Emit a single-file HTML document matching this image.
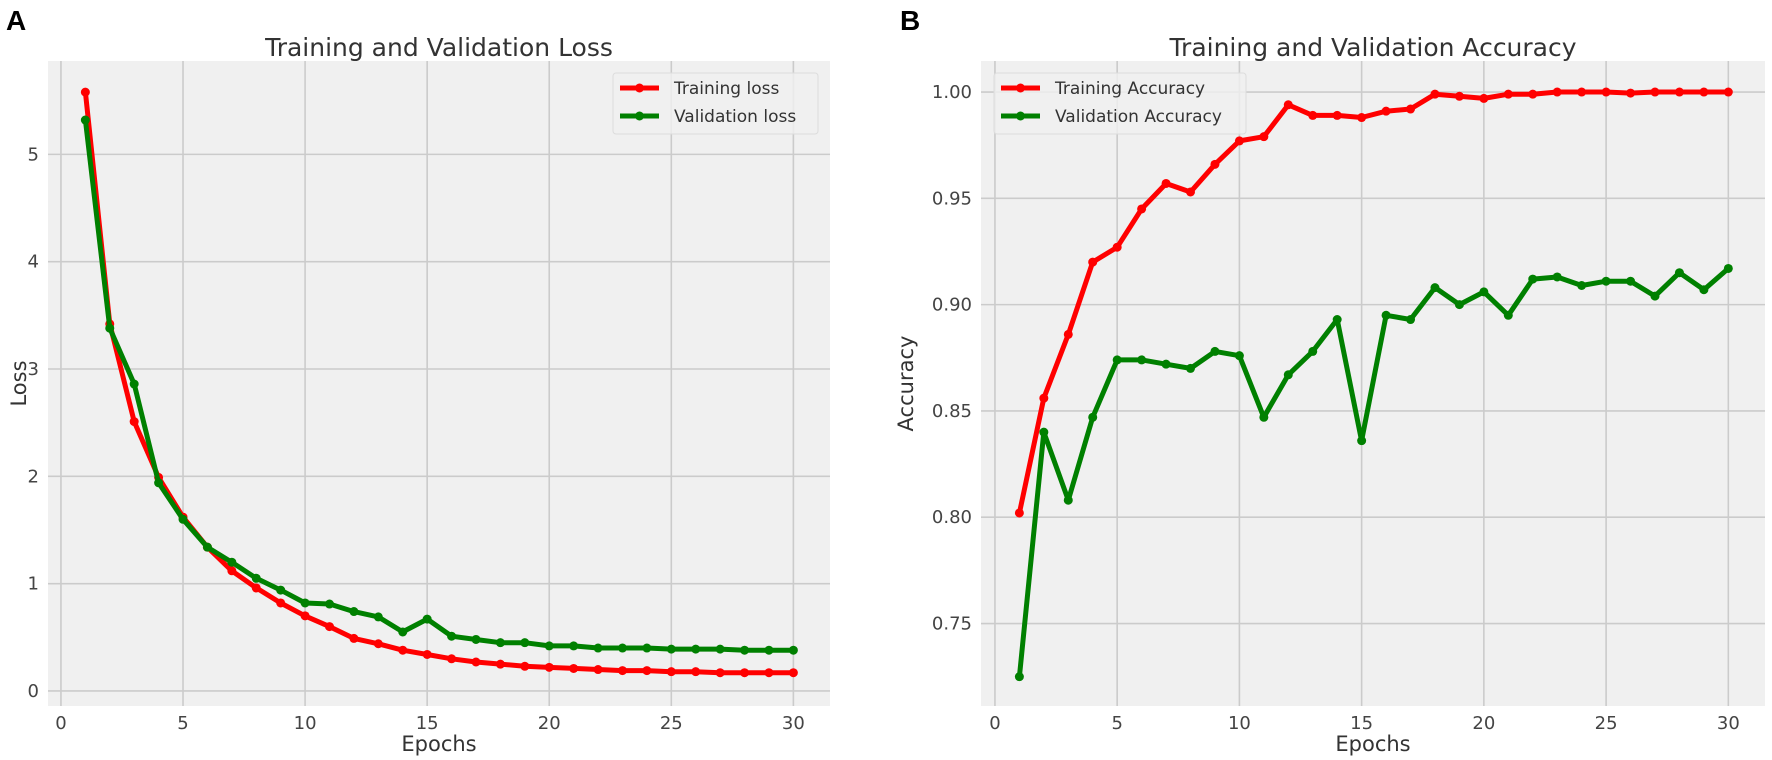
<!DOCTYPE html>
<html><head><meta charset="utf-8"><style>
html,body{margin:0;padding:0;background:#fff;}
svg{display:block;font-family:"DejaVu Sans","Liberation Sans",sans-serif;}
</style></head><body>
<svg id="fig" width="1772" height="760" viewBox="0 0 1772 760" xmlns="http://www.w3.org/2000/svg">
<text x="6" y="30" font-size="28" font-weight="bold" fill="#000" font-family="Liberation Sans, sans-serif">A</text>
<text x="900" y="30" font-size="28" font-weight="bold" fill="#000" font-family="Liberation Sans, sans-serif">B</text>
</svg>
<script>
const epochs = [1,2,3,4,5,6,7,8,9,10,11,12,13,14,15,16,17,18,19,20,21,22,23,24,25,26,27,28,29,30];
const trainLoss = [5.58,3.42,2.51,1.99,1.62,1.34,1.12,0.96,0.82,0.70,0.60,0.49,0.44,0.38,0.34,0.30,0.27,0.25,0.23,0.22,0.21,0.20,0.19,0.19,0.18,0.18,0.17,0.17,0.17,0.17];
const valLoss = [5.32,3.38,2.86,1.94,1.60,1.34,1.20,1.05,0.94,0.82,0.81,0.74,0.69,0.55,0.67,0.51,0.48,0.45,0.45,0.42,0.42,0.40,0.40,0.40,0.39,0.39,0.39,0.38,0.38,0.38];
const trainAcc = [0.802,0.856,0.886,0.920,0.927,0.945,0.957,0.953,0.966,0.977,0.979,0.994,0.989,0.989,0.988,0.991,0.992,0.999,0.998,0.997,0.999,0.999,1.000,1.000,1.000,0.9995,1.000,1.000,1.000,1.000];
const valAcc = [0.725,0.840,0.808,0.847,0.874,0.874,0.872,0.870,0.878,0.876,0.847,0.867,0.878,0.893,0.836,0.895,0.893,0.908,0.900,0.906,0.895,0.912,0.913,0.909,0.911,0.911,0.904,0.915,0.907,0.917];
const xTicks = [0,5,10,15,20,25,30];
const lossTicks = [0,1,2,3,4,5];
const lossTickLabels = ["0","1","2","3","4","5"];
const accTicks = [0.75,0.80,0.85,0.90,0.95,1.00];
const accTickLabels = ["0.75","0.80","0.85","0.90","0.95","1.00"];

const NS = "http://www.w3.org/2000/svg";
const svg = document.getElementById('fig');
function mk(tag, attrs, parent){
  const e = document.createElementNS(NS, tag);
  for (const k in attrs) e.setAttribute(k, attrs[k]);
  (parent||svg).appendChild(e);
  return e;
}
function panel(cfg){
  const g = mk('g', {});
  
  
  const L = cfg.left, R = cfg.right, T = 61, B = 706;
  const xs = v => L + (v - cfg.xmin) / (cfg.xmax - cfg.xmin) * (R - L);
  const ys = v => B - (v - cfg.ymin) / (cfg.ymax - cfg.ymin) * (B - T);
  const bg = mk('rect', {x:L, y:T, width:R-L, height:B-T, fill:'#f0f0f0'}, g);
  
  
  xTicks.forEach(t => {
    const x = xs(t);
    const gl = mk('line', {x1:x, x2:x, y1:T, y2:B, stroke:'#cbcbcb', 'stroke-width':1.6}, g);
    
    
    const tl = mk('text', {x:x, y:B+23, 'font-size':18, fill:'#444', 'text-anchor':'middle'}, g);
    tl.textContent = String(t);
    
    
  });
  cfg.yticks.forEach((t, i) => {
    const y = ys(t);
    const gl = mk('line', {x1:L, x2:R, y1:y, y2:y, stroke:'#cbcbcb', 'stroke-width':1.6}, g);
    
    
    const tl = mk('text', {x:L-9, y:y+6, 'font-size':18, fill:'#444', 'text-anchor':'end'}, g);
    tl.textContent = cfg.ylabels[i];
    
    
  });
  cfg.series.forEach(s => {
    const pts = epochs.map((e, i) => xs(e).toFixed(1) + ',' + ys(s.data[i]).toFixed(1)).join(' ');
    const pl = mk('polyline', {points:pts, fill:'none', stroke:s.color, 'stroke-width':5, 'stroke-linejoin':'round'}, g);
    
    
    epochs.forEach((e, i) => {
      const c = mk('circle', {cx:xs(e), cy:ys(s.data[i]), r:4.5, fill:s.color}, g);
      
      
    });
  });
  const tt = mk('text', {x:(L+R)/2, y:56, 'font-size':25, fill:'#333', 'text-anchor':'middle'}, g);
  tt.textContent = cfg.title;
  
  
  const xl = mk('text', {x:(L+R)/2, y:B+45, 'font-size':21, fill:'#333', 'text-anchor':'middle'}, g);
  xl.textContent = 'Epochs';
  
  
  const yl = mk('text', {x:0, y:0, 'font-size':21, fill:'#333', 'text-anchor':'middle', transform:'translate(' + cfg.ylabelX + ',' + ((T+B)/2) + ') rotate(-90)'}, g);
  yl.textContent = cfg.ylabel;
  
  
  const lg = mk('g', {}, g);
  
  
  mk('rect', {x:cfg.lgx, y:73, width:cfg.lgw, height:61, rx:3, fill:'#f0f0f0', stroke:'#dcdcdc', 'stroke-width':1, 'fill-opacity':0.8}, lg);
  cfg.series.forEach((s, i) => {
    const y = 88 + i * 28;
    const ent = mk('g', {}, lg);
    
    
    mk('line', {x1:cfg.lgx+7, x2:cfg.lgx+46, y1:y, y2:y, stroke:s.color, 'stroke-width':5}, ent);
    mk('circle', {cx:cfg.lgx+26.5, cy:y, r:4.5, fill:s.color}, ent);
    const t = mk('text', {x:cfg.lgx+61, y:y+6, 'font-size':17, fill:'#333'}, ent);
    t.textContent = s.label;
  });
}
panel({name:'loss-chart', left:48, right:830, xmin:-0.53, xmax:31.5, ymin:-0.14, ymax:5.87,
  yticks:lossTicks, ylabels:lossTickLabels, title:'Training and Validation Loss', ylabel:'Loss', ylabelX:26,
  lgx:613, lgw:205,
  series:[{id:'training-loss', label:'Training loss', color:'#ff0000', data:trainLoss},
          {id:'validation-loss', label:'Validation loss', color:'#008000', data:valLoss}]});
panel({name:'accuracy-chart', left:981, right:1765, xmin:-0.57, xmax:31.5, ymin:0.7112, ymax:1.0146,
  yticks:accTicks, ylabels:accTickLabels, title:'Training and Validation Accuracy', ylabel:'Accuracy', ylabelX:913,
  lgx:994, lgw:252,
  series:[{id:'training-accuracy', label:'Training Accuracy', color:'#ff0000', data:trainAcc},
          {id:'validation-accuracy', label:'Validation Accuracy', color:'#008000', data:valAcc}]});
</script>
</body></html>
